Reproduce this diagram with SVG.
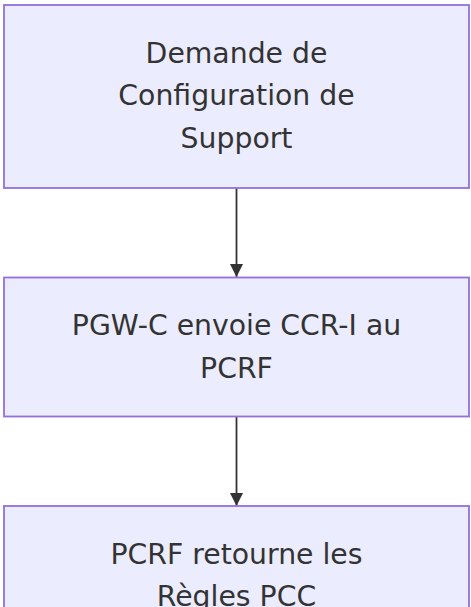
<svg xmlns="http://www.w3.org/2000/svg" width="471" height="607" viewBox="0 0 471 607">
<defs>
<style>
.node rect{fill:#ECECFF;stroke:#9370DB;stroke-width:1.8}
.node text{font-family:"DejaVu Sans",sans-serif;font-size:28.3px;fill:#333;text-anchor:middle}
.edge{stroke:#333;stroke-width:1.8;fill:none}
</style>
<marker id="arrow" viewBox="0 0 10 10" refX="10" refY="5" markerWidth="7.5" markerHeight="7.5" markerUnits="strokeWidth" orient="auto">
<path d="M0,0 L10,5 L0,10 z" fill="#333"/>
</marker>
</defs>
<g id="connectors">
<path class="edge" d="M236.5,188 L236.5,277" marker-end="url(#arrow)"/>
<path class="edge" d="M236.5,416 L236.5,506" marker-end="url(#arrow)"/>
</g>
<g id="n1" class="node">
<rect x="4" y="5" width="465" height="183"/>
<text x="236.5" y="62.5">Demande de</text>
<text x="236.5" y="105">Configuration de</text>
<text x="236.5" y="147.5">Support</text>
</g>
<g id="n2" class="node">
<rect x="4" y="277.5" width="465" height="139"/>
<text x="236.5" y="335">PGW-C envoie CCR-I au</text>
<text x="236.5" y="377.5">PCRF</text>
</g>
<g id="n3" class="node">
<rect x="4" y="506" width="465" height="139"/>
<text x="236.5" y="563.5">PCRF retourne les</text>
<text x="236.5" y="606">Règles PCC</text>
</g>
</svg>
